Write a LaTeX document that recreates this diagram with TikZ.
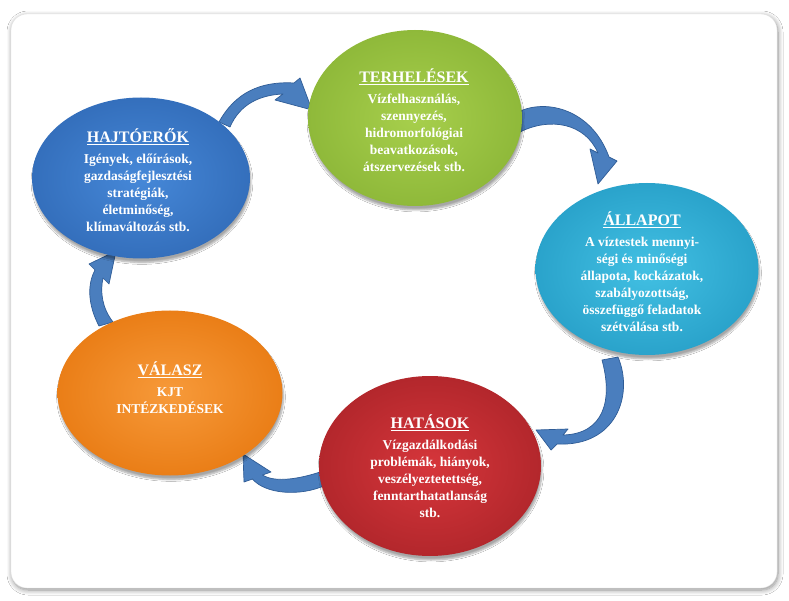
\documentclass[tikz,border=0pt]{standalone}
\usepackage{fontspec}
\setmainfont{Liberation Serif}
\usetikzlibrary{shapes.geometric,shadows.blur}
\definecolor{blueC}{HTML}{4688D8}
\definecolor{blueD}{HTML}{346FBC}
\definecolor{greenC}{HTML}{A7CF4C}
\definecolor{greenD}{HTML}{8FB93A}
\definecolor{cyanC}{HTML}{42C0E3}
\definecolor{cyanD}{HTML}{2AA3CB}
\definecolor{redC}{HTML}{D6363B}
\definecolor{redD}{HTML}{B3272C}
\definecolor{orangeC}{HTML}{F79A3A}
\definecolor{orangeD}{HTML}{EA7E17}
\definecolor{arrowB}{HTML}{4A7EBE}
\definecolor{arrowD}{HTML}{2F5C96}
\begin{document}
\begin{tikzpicture}[x=1pt,y=-1pt,
  bub/.style={ellipse, inner sep=0pt, shading=radial,
    blur shadow={shadow xshift=1pt, shadow yshift=-4pt, shadow opacity=35, shadow blur steps=6}},
  carrow/.style={fill=arrowB, draw=arrowD, line width=0.7pt, line join=round},
  txt/.style={text=white, align=center, inner sep=0pt,
    font=\fontsize{13.5}{17}\selectfont\bfseries}]
\useasboundingbox (0,0) rectangle (789,601);
\fill[white] (0,0) rectangle (789,601);
\draw[rounded corners=16pt, fill=white, draw=black!12,
  blur shadow={shadow xshift=1pt, shadow yshift=-2pt, shadow opacity=45, shadow blur steps=8, shadow blur radius=5pt}]
  (11,14) rectangle (777,588);

% arrows
\draw[carrow] (219,122) .. controls (235,93) and (260,81) .. (294,83) -- (300,78) -- (312,110) -- (275,100) -- (283,94) .. controls (260,95) and (240,104) .. (230,127) -- cycle;
\draw[carrow] (518,112) .. controls (547,98) and (592,110) .. (609,157) -- (617,161) -- (598,184) -- (590,149) -- (598,153) .. controls (585,123) and (550,117) .. (520,132) -- cycle;
\draw[carrow] (618,357) .. controls (634,395) and (616,447) .. (557,444) -- (551,450) -- (536,430) -- (568,429) -- (563,435) .. controls (604,434) and (613,400) .. (602,360) -- cycle;
\draw[carrow] (326,485) .. controls (300,497) and (265,494) .. (252.5,479) -- (244,482) -- (243,454) -- (271,472) -- (262.5,475) .. controls (275,483) and (300,479) .. (323,471) -- cycle;
\draw[carrow] (99,326) .. controls (88,305) and (87,285) .. (95,270) -- (89,264) -- (116,251) -- (109,284) -- (103,278) .. controls (100,292) and (102,308) .. (113,322) -- cycle;

% bubbles
\node[bub, inner color=blueC, outer color=blueD, minimum width=218pt, minimum height=161pt] (hajto) at (141,178) {};
\node[bub, inner color=greenC, outer color=greenD, minimum width=214pt, minimum height=176pt] (terh) at (415,118) {};
\node[bub, inner color=cyanC, outer color=cyanD, minimum width=223pt, minimum height=172pt] (allapot) at (647,269) {};
\node[bub, inner color=redC, outer color=redD, minimum width=222pt, minimum height=180pt] (hatas) at (430,466) {};
\node[bub, inner color=orangeC, outer color=orangeD, minimum width=225pt, minimum height=165pt] (valasz) at (170,393) {};

% texts
\node[txt] (hajtoT) at (138,180) {{\fontsize{16}{17}\selectfont\underline{HAJTÓERŐK}}\\[4pt]
Igények, előírások,\\ gazdaságfejlesztési\\ stratégiák,\\ életminőség,\\ klímaváltozás stb.};
\node[txt] (terhT) at (414,120) {{\fontsize{16}{17}\selectfont\underline{TERHELÉSEK}}\\[4pt]
Vízfelhasználás,\\ szennyezés,\\ hidromorfológiai\\ beavatkozások,\\ átszervezések stb.};
\node[txt] (allapotT) at (642,272) {{\fontsize{16}{17}\selectfont\underline{ÁLLAPOT}}\\[4pt]
A víztestek mennyi-\\ ségi és minőségi\\ állapota, kockázatok,\\ szabályozottság,\\ összefüggő feladatok\\ szétválása stb.};
\node[txt] (hatasT) at (430,466) {{\fontsize{16}{17}\selectfont\underline{HATÁSOK}}\\[4pt]
Vízgazdálkodási\\ problémák, hiányok,\\ veszélyeztetettség,\\ fenntarthatatlanság\\ stb.};
\node[txt] (valaszT) at (170,388) {{\fontsize{16}{17}\selectfont\underline{VÁLASZ}}\\[4pt]
KJT\\ INTÉZKEDÉSEK};
\end{tikzpicture}
\end{document}
